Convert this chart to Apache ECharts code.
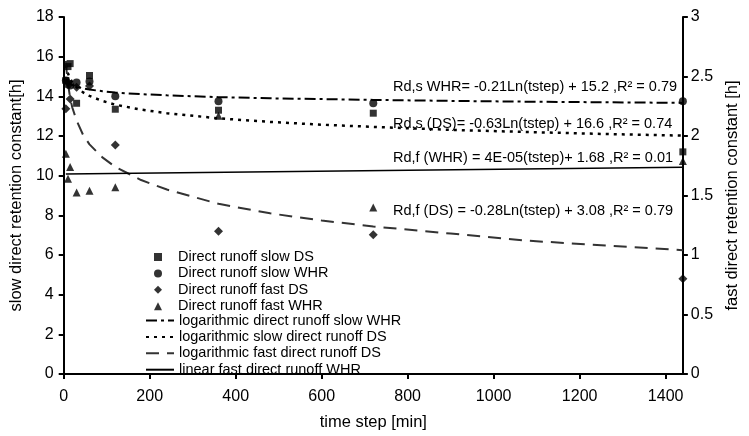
<!DOCTYPE html>
<html>
<head>
<meta charset="utf-8">
<script src="https://cdn.jsdelivr.net/npm/echarts@6/dist/echarts.min.js"></script>
<style>
html,body{margin:0;padding:0;background:#fff;}
#chart{width:749px;height:436px;}
</style>
</head>
<body>
<div id="chart"></div>
<script>
// time steps of the measured points [min]
var timeSteps = [5, 10, 15, 30, 60, 120, 360, 720, 1440];
// slow constants (left axis, h)
var slowDS  = [14.8, 15.5, 15.65, 13.65, 15.05, 13.35, 13.3, 13.15, 11.2];
var slowWHR = [14.8, 14.6, 14.55, 14.7, 14.75, 14.0, 13.75, 13.65, 13.75];
// fast constants (right axis, h)
var fastDS  = [2.23, 2.45, 2.31, 2.41, 2.42, 1.925, 1.2, 1.17, 0.8];
var fastWHR = [1.85, 1.64, 1.74, 1.525, 1.54, 1.57, 2.17, 1.4, 1.79];

// trend line samples
var trendT = [5, 7, 10, 15, 20, 30, 45, 60, 90, 120, 180, 240, 360, 480, 600, 720, 900, 1080, 1260, 1440];
var trendSlowWHR = [14.86, 14.79, 14.72, 14.63, 14.57, 14.49, 14.40, 14.34, 14.26, 14.19, 14.11, 14.05, 13.96, 13.90, 13.86, 13.82, 13.77, 13.73, 13.70, 13.67];
var trendSlowDS  = [15.59, 15.37, 15.15, 14.89, 14.71, 14.46, 14.20, 14.02, 13.77, 13.58, 13.33, 13.15, 12.89, 12.71, 12.57, 12.46, 12.31, 12.20, 12.10, 12.02];
var trendFastDS  = [2.63, 2.54, 2.44, 2.32, 2.24, 2.13, 2.01, 1.93, 1.82, 1.74, 1.63, 1.55, 1.43, 1.35, 1.29, 1.24, 1.18, 1.12, 1.08, 1.04];
var linT = [5, 1440];
var trendFastWHR = [1.68, 1.738];

var seriesNames = [
  'Direct runoff slow DS', 'Direct runoff slow WHR', 'Direct runoff fast DS', 'Direct runoff fast WHR',
  'logarithmic direct runoff slow WHR', 'logarithmic slow direct runoff DS',
  'logarithmic fast direct runoff DS', 'linear fast direct runoff WHR'
];
var annotations = [
  'Rd,s WHR= -0.21Ln(tstep) + 15.2 ,R² = 0.79',
  'Rd,s (DS)= -0.63Ln(tstep) + 16.6 ,R² = 0.74',
  'Rd,f (WHR) = 4E-05(tstep)+ 1.68 ,R² = 0.01',
  'Rd,f (DS) = -0.28Ln(tstep) + 3.08 ,R² = 0.79'
];
var xTicks = {min: 0, max: 1440, interval: 200};
var yLeftTicks = {min: 0, max: 18, interval: 2};
var yRightTicks = {min: 0, max: 3, interval: 0.5};

function pairs(xs, ys){ return xs.map(function(x,i){ return [x, ys[i]]; }); }

var FONT = 'Liberation Sans, Arial, sans-serif';
var TICK_FS = 16, NAME_FS = 16.5, TEXT_FS = 14.5;
var chart = echarts.init(document.getElementById('chart'));
var axisCommon = {
  axisLine: {show: true, lineStyle: {color: '#000', width: 2}},
  axisTick: {show: true, length: 5, lineStyle: {color: '#000', width: 2}},
  splitLine: {show: false}
};
function scatter(name, data, sym, size, yi){
  return {name: name, type: 'scatter', yAxisIndex: yi, data: data, symbol: sym, symbolSize: size,
    itemStyle: {color: '#000'}, z: 5};
}
function line(name, data, yi, width, dash, color){
  return {name: name, type: 'line', yAxisIndex: yi, data: data, showSymbol: false,
    lineStyle: {color: color || '#000', width: width, type: dash}, itemStyle: {color: color || '#000'},
    z: 3, silent: true};
}
var textEls = [];
var ys = [87, 124, 158, 211];
annotations.forEach(function(t, i){
  textEls.push({type: 'text', style: {text: t, x: 393, y: ys[i], fill: '#000', font: TEXT_FS + 'px ' + FONT, verticalAlign: 'middle'}, z: 10});
});
var ITEM_GAP = 1.4;

chart.setOption({
  backgroundColor: '#fff',
  animation: false,
  grid: {left: 63, right: 55, top: 17, bottom: 59},
  xAxis: Object.assign({}, axisCommon, {
    type: 'value', min: xTicks.min, max: xTicks.max, interval: xTicks.interval,
    name: 'time step [min]', nameLocation: 'middle', nameGap: 40,
    nameTextStyle: {color: '#000', fontSize: NAME_FS, fontFamily: FONT},
    axisLabel: {color: '#000', fontSize: TICK_FS, fontFamily: FONT, margin: 15, showMaxLabel: false,
      formatter: function(v){ return String(v); }}
  }),
  yAxis: [
    Object.assign({}, axisCommon, {
      type: 'value', position: 'left', min: yLeftTicks.min, max: yLeftTicks.max, interval: yLeftTicks.interval,
      name: 'slow direct retention constant[h]', nameLocation: 'middle', nameGap: 33,
      nameTextStyle: {color: '#000', fontSize: NAME_FS, fontFamily: FONT},
      axisLabel: {color: '#000', fontSize: TICK_FS, fontFamily: FONT, margin: 10}
    }),
    Object.assign({}, axisCommon, {
      type: 'value', position: 'right', min: yRightTicks.min, max: yRightTicks.max, interval: yRightTicks.interval,
      name: 'fast direct retention constant [h]', nameLocation: 'middle', nameGap: 39, nameRotate: 90,
      nameTextStyle: {color: '#000', fontSize: NAME_FS, fontFamily: FONT},
      axisLabel: {color: '#000', fontSize: TICK_FS, fontFamily: FONT, margin: 8}
    })
  ],
  legend: [
    {
      orient: 'vertical', left: 149, top: 244.5, itemWidth: 8, itemHeight: 8, itemGap: ITEM_GAP,
      textStyle: {color: '#000', fontSize: TEXT_FS, fontFamily: FONT, padding: [0, 0, 0, 11]},
      data: seriesNames.slice(0, 4), selectedMode: false
    },
    {
      orient: 'vertical', left: 140, top: 308, itemWidth: 28, itemHeight: 8, itemGap: ITEM_GAP,
      textStyle: {color: '#000', fontSize: TEXT_FS, fontFamily: FONT},
      data: seriesNames.slice(4).map(function(n){ return {name: n, itemStyle: {opacity: 0}}; }),
      selectedMode: false
    }
  ],
  graphic: textEls,
  series: [
    scatter(seriesNames[0], pairs(timeSteps, slowDS), 'rect', 7, 0),
    scatter(seriesNames[1], pairs(timeSteps, slowWHR), 'circle', 8, 0),
    scatter(seriesNames[2], pairs(timeSteps, fastDS), 'diamond', 9, 1),
    scatter(seriesNames[3], pairs(timeSteps, fastWHR), 'triangle', 8, 1),
    line(seriesNames[4], pairs(trendT, trendSlowWHR), 0, 2, [11, 4, 3, 4]),
    line(seriesNames[5], pairs(trendT, trendSlowDS), 0, 2.5, [3, 5]),
    line(seriesNames[6], pairs(trendT, trendFastDS), 1, 2, [13, 8], '#333'),
    line(seriesNames[7], pairs(linT, trendFastWHR), 1, 1.5, 'solid')
  ]
});
</script>
</body>
</html>
